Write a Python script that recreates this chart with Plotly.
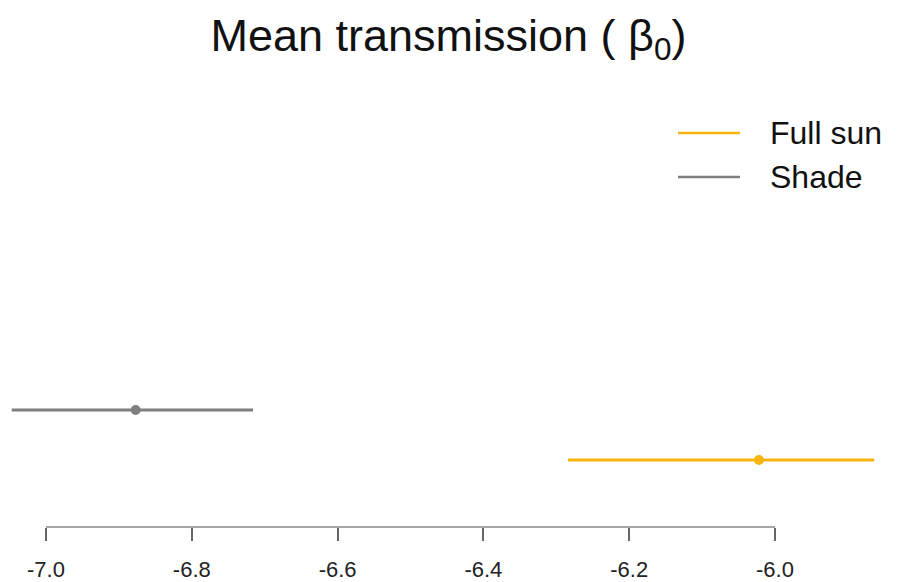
import plotly.graph_objects as go

groups = ["Full sun", "Shade"]
means = [-6.022, -6.877]
lower = [-6.284, -7.047]
upper = [-5.864, -6.716]
ypos = [1, 2]
colors = ["#F6B40E", "#7F7F7F"]
tick_vals = [-7.0, -6.8, -6.6, -6.4, -6.2, -6.0]
tick_text = ["-7.0", "-6.8", "-6.6", "-6.4", "-6.2", "-6.0"]

W, H = 897, 582
top, bottom = 90, 55
plot_h = H - top - bottom

fig = go.Figure()
for g, m, lo, hi, y, c in zip(groups, means, lower, upper, ypos, colors):
    fig.add_trace(go.Scatter(
        x=[m], y=[y], mode="markers", name=g, showlegend=False,
        marker=dict(color=c, size=10),
        error_x=dict(type="data", symmetric=False, array=[hi - m], arrayminus=[m - lo],
                     color=c, thickness=3, width=0),
    ))

# axis line spanning tick range (R style)
fig.add_shape(type="line", xref="x", yref="paper", x0=tick_vals[0], x1=tick_vals[-1],
              y0=0, y1=0, line=dict(color="#888888", width=1.5))

# manual legend
def py2paper(py):
    return (H - bottom - py) / plot_h

for i, (g, c) in enumerate(zip(groups, colors)):
    yy = py2paper(133 + 44 * i)
    fig.add_shape(type="line", xref="paper", yref="paper", x0=678 / W, x1=740 / W,
                  y0=yy, y1=yy, line=dict(color=c, width=2.5))
    fig.add_annotation(xref="paper", yref="paper", x=768 / W, y=yy, text=g, showarrow=False,
                       xanchor="left", yanchor="middle",
                       font=dict(family="Liberation Sans, Arial", size=32, color="#111111"))

fig.update_layout(
    width=W, height=H,
    margin=dict(l=0, r=0, t=top, b=bottom),
    paper_bgcolor="white", plot_bgcolor="white",
    title=dict(text="Mean transmission ( β<sub>0</sub>)", x=0.5, xanchor="center",
               y=1 - 35 / H, yanchor="middle",
               font=dict(family="Liberation Sans, Arial", size=45, color="#111111")),
    xaxis=dict(range=[-7 - 46 / 729, -7 + 851 / 729], tickvals=tick_vals, ticktext=tick_text,
               showgrid=False, zeroline=False, showline=False, ticks="outside", ticklen=13,
               tickwidth=1.5, tickcolor="#666666", ticklabelstandoff=10,
               tickfont=dict(family="Liberation Sans, Arial", size=22, color="#222222")),
    yaxis=dict(range=[1 - 67 / 50, 1 + (460 - top) / 50], visible=False),
)

fig.write_html("out.html")
